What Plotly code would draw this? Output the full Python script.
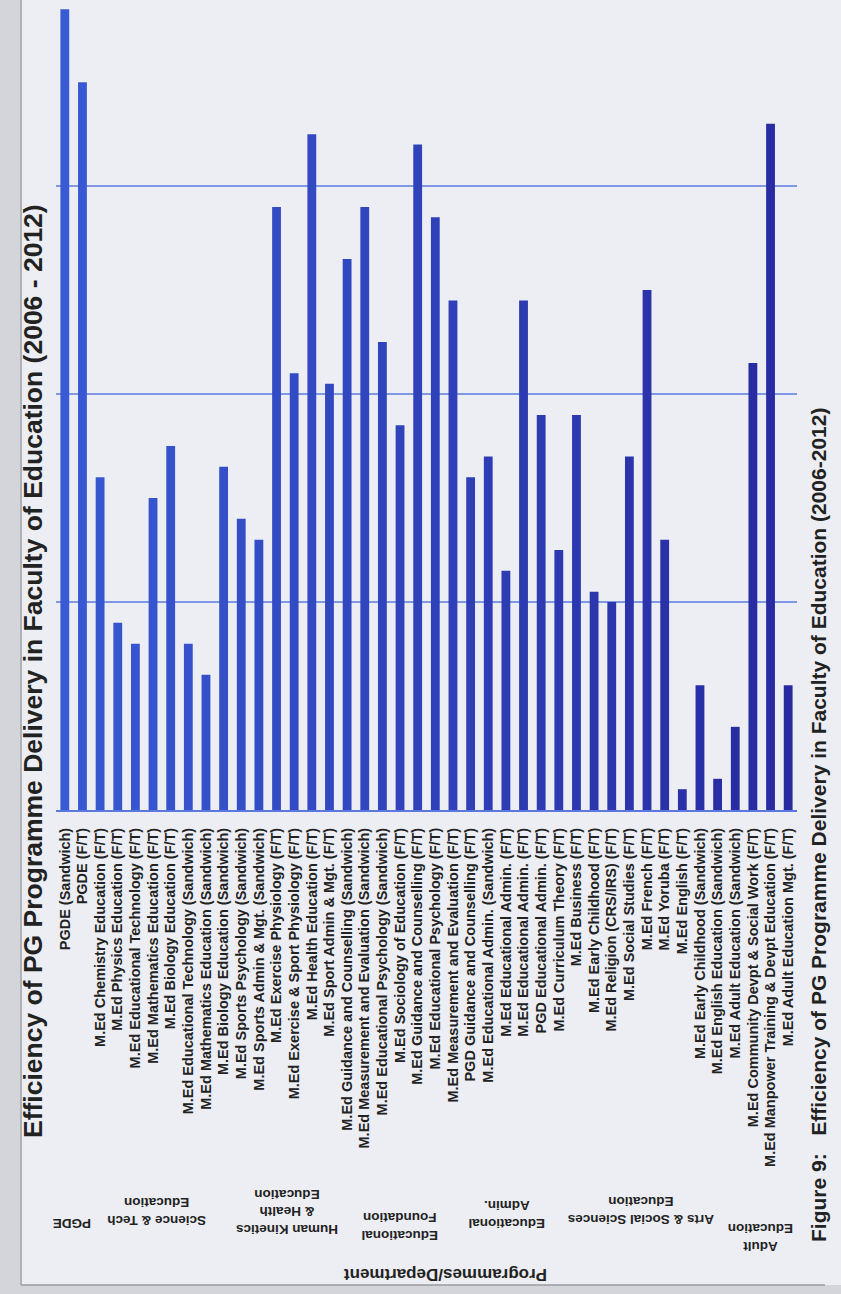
import plotly.graph_objects as go

programmes = [
    "PGDE (Sandwich)", "PGDE (F/T)",
    "M.Ed Chemistry Education (F/T)", "M.Ed Physics Education (F/T)",
    "M.Ed Educational Technology (F/T)", "M.Ed Mathematics Education (F/T)",
    "M.Ed Biology Education (F/T)", "M.Ed Educational Technology (Sandwich)",
    "M.Ed Mathematics Education (Sandwich)", "M.Ed Biology Education (Sandwich)",
    "M.Ed Sports Psychology (Sandwich)", "M.Ed Sports Admin & Mgt. (Sandwich)",
    "M.Ed Exercise Physiology (F/T)", "M.Ed Exercise & Sport Physiology (F/T)",
    "M.Ed Health Education (F/T)", "M.Ed Sport Admin & Mgt. (F/T)",
    "M.Ed Guidance and Counselling (Sandwich)", "M.Ed Measurement and Evaluation (Sandwich)",
    "M.Ed Educational Psychology (Sandwich)", "M.Ed Sociology of Education (F/T)",
    "M.Ed Guidance and Counselling (F/T)", "M.Ed Educational Psychology (F/T)",
    "M.Ed Measurement and Evaluation (F/T)", "PGD Guidance and Counselling (F/T)",
    "M.Ed Educational Admin. (Sandwich)", "M.Ed Educational Admin. (F/T)",
    "M.Ed Educational Admin. (F/T)", "PGD Educational Admin. (F/T)",
    "M.Ed Curriculum Theory (F/T)", "M.Ed Business (F/T)",
    "M.Ed Early Childhood (F/T)", "M.Ed Religion (CRS/IRS) (F/T)",
    "M.Ed Social Studies (F/T)", "M.Ed French (F/T)",
    "M.Ed Yoruba (F/T)", "M.Ed English (F/T)",
    "M.Ed Early Childhood (Sandwich)", "M.Ed English Education (Sandwich)",
    "M.Ed Adult Education (Sandwich)", "M.Ed Community Devpt & Social Work (F/T)",
    "M.Ed Manpower Training & Devpt Education (F/T)", "M.Ed Adult Education Mgt. (F/T)",
]

efficiency = [
    77, 70, 32, 18, 16, 30, 35, 16, 13, 33, 28, 26, 58, 42, 65, 41, 53, 58,
    45, 37, 64, 57, 49, 32, 34, 23, 49, 38, 25, 38, 21, 20, 34, 50, 26, 2,
    12, 3, 8, 43, 66, 12,
]

groups = [
    "PGDE", "Science & Tech<br>Education", "Human Kinetics<br>& Health<br>Education",
    "Educational<br>Foundation", "Educational<br>Admin.",
    "Arts & Social Sciences<br>Education", "Adult<br>Education",
]

title = "Efficiency of PG Programme Delivery in Faculty of Education (2006 - 2012)"
caption = "Figure 9:&nbsp;&nbsp;&nbsp;Efficiency of PG Programme Delivery in Faculty of Education (2006-2012)"
axis_title = "Programmes/Department"

W, H = 841, 1294
L, R, T, B = 56, 44, 0, 484
PW, PH = W - L - R, H - T - B


def px(x):
    return (x - L) / PW


def py(y):
    return (T + PH - y) / PH


n = len(programmes)
c0, c1 = (56, 90, 212), (40, 42, 160)
colors = [
    "rgb({},{},{})".format(*[int(a + (b - a) * i / (n - 1)) for a, b in zip(c0, c1)])
    for i in range(n)
]

fig = go.Figure(go.Bar(
    x=list(range(n)), y=efficiency, width=0.5,
    marker=dict(color=colors, line=dict(width=0)),
))

font_bold = dict(family="Liberation Sans, Arial, sans-serif", weight="bold", color="#222222")

fig.update_layout(
    width=W, height=H,
    margin=dict(l=L, r=R, t=T, b=B, pad=0),
    paper_bgcolor="#eceef3", plot_bgcolor="#eceef3",
    showlegend=False,
    xaxis=dict(
        range=[-0.5, n - 0.5], tickmode="array", tickvals=list(range(n)),
        ticktext=programmes, tickangle=-90, ticks="",
        tickfont=dict(size=14.5, **font_bold), ticklabelstandoff=10,
        showline=True, linecolor="#5a78e0", linewidth=2, showgrid=False,
        zeroline=False,
    ),
    yaxis=dict(
        range=[0, 77.9], dtick=20, showticklabels=False, ticks="",
        showgrid=True, gridcolor="#7e98e4", gridwidth=2, zeroline=False,
        showline=False,
    ),
)

annotations = [
    dict(text=title, x=px(33), y=py(671), textangle=-90,
         font=dict(size=26.5, **font_bold)),
    dict(text=caption, x=px(818), y=py(825), textangle=-90,
         font=dict(size=21, **font_bold)),
    dict(text=axis_title, x=px(446), y=py(1275), textangle=180,
         font=dict(size=17, **font_bold)),
]
group_pos = [(72, 1224), (157, 1212), (287, 1212), (400, 1227), (507, 1215), (641, 1211), (761, 1237)]
for g, (gx, gy) in zip(groups, group_pos):
    annotations.append(dict(text=g, x=px(gx), y=py(gy), textangle=180,
                            font=dict(size=13.5, **font_bold)))
for a in annotations:
    a.update(xref="paper", yref="paper", xanchor="center", yanchor="middle",
             showarrow=False, align="center")
fig.update_layout(annotations=annotations)

fig.update_layout(shapes=[
    dict(type="rect", xref="paper", yref="paper", x0=px(0), x1=px(20), y0=py(H), y1=py(0),
         fillcolor="#d3d5da", line=dict(width=0), layer="below"),
    dict(type="rect", xref="paper", yref="paper", x0=px(0), x1=px(W), y0=py(H), y1=py(1285),
         fillcolor="#d3d5da", line=dict(width=0), layer="below"),
    dict(type="line", xref="paper", yref="paper", x0=px(21), x1=px(21), y0=py(0), y1=py(1285),
         line=dict(color="#9a9ca2", width=1.5)),
    dict(type="line", xref="paper", yref="paper", x0=px(21), x1=px(825), y0=py(1285), y1=py(1285),
         line=dict(color="#9a9ca2", width=1.5)),
])

fig.write_html("out.html")
